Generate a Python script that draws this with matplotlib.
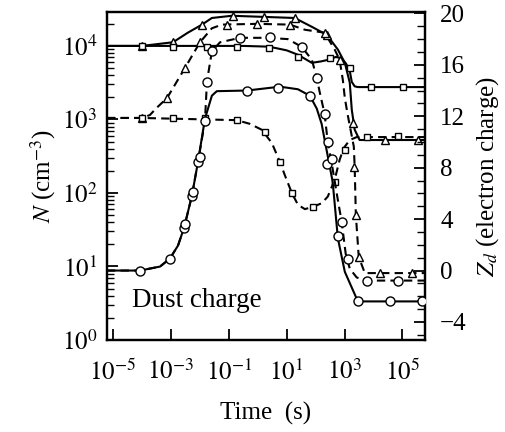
import matplotlib
matplotlib.use('Agg')
import matplotlib.pyplot as plt
import numpy as np

plt.rcParams['font.family'] = ['Liberation Serif', 'DejaVu Serif']
plt.rcParams['mathtext.fontset'] = 'stix'

# time values stored as log10(t / s)

# solid line, circles (dust charge, right axis)
a_lt = [-5.2, -4.06, -3.37, -3.03, -2.75, -2.54, -2.27, -2.06, -1.82, -1.58, -1.41,
        -0.37, 0.77, 1.39, 1.80, 2.04, 2.21, 2.31, 2.59, 2.77, 3.01, 3.46, 5.77]
a_zd = [0.0, 0.0, 0.31, 0.93, 1.94, 3.33, 5.81, 8.45, 11.8, 13.6, 13.95,
        14.0, 14.3, 14.1, 13.6, 12.6, 11.4, 10.2, 6.9, 2.5, -0.1, -2.4, -2.4]
a_mlt = [-4.06, -3.03, -2.54, -2.27, -2.06, -0.37, 0.70, 1.80, 2.39, 2.77, 3.46, 4.56, 5.66]
a_mzd = [0.0, 0.93, 3.33, 5.81, 8.45, 14.0, 14.2, 13.6, 8.3, 2.7, -2.4, -2.4, -2.4]

# dashed line, circles (dust charge, right axis)
b_lt = [-5.2, -4.06, -3.37, -3.03, -2.75, -2.54, -2.27, -2.06, -1.82, -1.75, -1.58,
        -1.30, -0.61, 0.35, 1.04, 1.52, 1.87, 2.04, 2.14, 2.31, 2.42, 2.56, 2.73,
        2.90, 3.04, 3.18, 3.42, 3.77, 5.77]
b_zd = [0.0, 0.0, 0.31, 0.93, 1.94, 3.33, 5.81, 8.45, 11.6, 14.7, 17.05,
        17.75, 18.1, 18.1, 18.0, 17.4, 16.4, 15.0, 13.9, 12.2, 10.0, 8.3, 6.0,
        3.8, 1.3, 0.15, -0.54, -0.78, -0.78]
b_mlt = [-2.50, -2.24, -2.00, -1.82, -1.75, -1.58, -0.61, 0.42, 1.52, 2.04, 2.31,
         2.42, 2.56, 2.90, 3.11, 3.77, 4.83]
b_mzd = [3.6, 6.1, 8.8, 11.6, 14.7, 17.05, 18.1, 18.2, 17.4, 15.0, 12.2,
         10.0, 8.7, 3.8, 0.9, -0.78, -0.78]

# solid line, triangles (log10 N)
c_lt = [-5.2, -3.99, -2.92, -2.41, -1.92, -1.58, -0.89, 1.28, 1.87, 2.39, 2.77,
        3.01, 3.18, 3.25, 3.35, 3.52, 5.77]
c_ln = [4.0, 4.0, 4.05, 4.18, 4.29, 4.38, 4.41, 4.38, 4.26, 4.15, 3.95,
        3.77, 3.50, 3.13, 2.86, 2.72, 2.72]
c_mlt = [-3.99, -2.92, -1.92, -0.86, 0.21, 1.28, 2.39, 3.30, 4.39, 5.52]
c_mln = [4.0, 4.05, 4.29, 4.41, 4.39, 4.38, 4.15, 2.95, 2.72, 2.72]

# solid line, squares (log10 N)
e_lt = [-5.2, -3.99, -0.5, 0.39, 1.0, 1.39, 1.87, 2.2, 2.42, 2.7, 2.9,
        3.05, 3.18, 3.25, 3.35, 3.46, 5.77]
e_ln = [4.0, 4.0, 4.0, 3.99, 3.94, 3.88, 3.77, 3.79, 3.81, 3.85, 3.83,
        3.76, 3.66, 3.51, 3.45, 3.44, 3.44]
e_mlt = [-3.99, -2.92, -1.75, -0.72, 0.39, 1.39, 2.49, 3.18, 3.90, 5.01]
e_mln = [4.0, 3.99, 3.99, 3.99, 3.97, 3.85, 3.84, 3.70, 3.44, 3.44]

# dashed line, triangles (log10 N)
d_lt = [-5.2, -3.99, -3.72, -3.48, -3.13, -2.51, -1.99, -1.58, -1.23, -0.03, 1.11,
        1.63, 2.31, 2.66, 2.83, 2.94, 3.01, 3.11, 3.32, 3.35, 3.39, 3.49, 3.70, 5.77]
d_ln = [3.02, 3.02, 3.06, 3.16, 3.29, 3.70, 4.05, 4.24, 4.29, 4.30, 4.29,
        4.22, 4.18, 3.95, 3.81, 3.54, 3.29, 3.06, 2.63, 2.35, 1.70, 1.13, 0.91, 0.91]
d_mlt = [-3.99, -3.13, -2.51, -1.99, -1.06, -0.03, 1.11, 2.31, 2.83, 3.33, 3.39,
         3.49, 4.21, 5.32]
d_mln = [3.02, 3.29, 3.70, 4.05, 4.29, 4.30, 4.29, 4.18, 3.81, 2.35, 1.70,
         1.13, 0.91, 0.91]

# dashed line, squares (log10 N)
f_lt = [-5.2, -3.99, -0.72, -0.27, 0.14, 0.49, 0.77, 0.94, 1.18, 1.39, 1.63,
        1.90, 2.21, 2.42, 2.66, 2.83, 2.97, 3.18, 3.42, 5.77]
f_ln = [3.02, 3.02, 2.99, 2.94, 2.86, 2.68, 2.42, 2.24, 2.0, 1.84, 1.78,
        1.81, 1.86, 1.95, 2.18, 2.45, 2.61, 2.72, 2.76, 2.76]
f_mlt = [-3.99, -2.92, -1.82, -0.72, 0.25, 0.77, 1.18, 1.90, 2.66, 3.01, 3.77, 4.83]
f_mln = [3.02, 3.02, 3.02, 2.99, 2.83, 2.42, 2.0, 1.81, 2.15, 2.59, 2.76, 2.78]

xtick_exp = [-5, -3, -1, 1, 3, 5]
ytick_exp = [0, 1, 2, 3, 4]
zd_ticks = [-4, 0, 4, 8, 12, 16, 20]


def tt(v):
    return np.power(10.0, v)


fig = plt.figure(figsize=(5.06, 4.32), dpi=100)
ax = fig.add_axes([0.2115, 0.213, 0.628, 0.759])
ax2 = ax.twinx()

lw = 1.5
dash = (4, 2.5)
mk = dict(ls='none', mfc='white', mec='black', mew=1.0, zorder=5)

ax.plot(tt(c_lt), tt(c_ln), 'k-', lw=lw)
ax.plot(tt(c_mlt), tt(c_mln), marker='^', ms=6, **mk)
ax.plot(tt(e_lt), tt(e_ln), 'k-', lw=lw)
ax.plot(tt(e_mlt), tt(e_mln), marker='s', ms=5, **mk)
ax.plot(tt(d_lt), tt(d_ln), 'k--', lw=lw, dashes=dash)
ax.plot(tt(d_mlt), tt(d_mln), marker='^', ms=6, **mk)
ax.plot(tt(f_lt), tt(f_ln), 'k--', lw=lw, dashes=dash)
ax.plot(tt(f_mlt), tt(f_mln), marker='s', ms=5, **mk)

ax2.plot(tt(a_lt), a_zd, 'k-', lw=lw)
ax2.plot(tt(a_mlt), a_mzd, marker='o', ms=6.5, **mk)
ax2.plot(tt(b_lt), b_zd, 'k--', lw=lw, dashes=dash)
ax2.plot(tt(b_mlt), b_mzd, marker='o', ms=6.5, **mk)

ax.set_xscale('log')
ax.set_yscale('log')
ax.set_xlim(tt(-5.2), tt(5.77))
ax.set_ylim(1, tt(4.46))
ax2.set_ylim(-5.4, 20.1)

ax.set_xticks([tt(e) for e in xtick_exp])
ax.set_xticklabels([r'$10^{%d}$' % e for e in xtick_exp])
ax.xaxis.set_minor_locator(matplotlib.ticker.NullLocator())
ax.set_yticks([tt(e) for e in ytick_exp])
ax.set_yticklabels([r'$10^{%d}$' % e for e in ytick_exp])
ax.yaxis.set_minor_locator(matplotlib.ticker.LogLocator(base=10, subs=np.arange(2, 10)))
ax.yaxis.set_minor_formatter(matplotlib.ticker.NullFormatter())

ax2.set_yticks(zd_ticks)
ax2.set_yticklabels([('\u2212%d' % -v) if v < 0 else '%d' % v for v in zd_ticks])
ax2.yaxis.set_minor_locator(matplotlib.ticker.MultipleLocator(1))

ax.tick_params(axis='x', which='major', direction='in', length=8, width=1.3,
               labelsize=18, pad=14, top=False)
ax.tick_params(axis='y', which='major', direction='in', length=8, width=1.3,
               labelsize=18, pad=7, right=False)
ax.tick_params(axis='y', which='minor', direction='in', length=5, width=1.0, right=False)
ax2.tick_params(axis='y', which='major', direction='in', length=8, width=1.3,
                labelsize=18, pad=11)
ax2.tick_params(axis='y', which='minor', direction='in', length=6, width=1.0)

for s in ax.spines.values():
    s.set_linewidth(1.6)
for s in ax2.spines.values():
    s.set_linewidth(1.6)

ax.set_xlabel('Time  (s)', fontsize=18)
ax.set_ylabel(r'$N$ (cm$^{-3}$)', fontsize=18)
ax2.set_ylabel(r'$Z_d$ (electron charge)', fontsize=18)
ax.xaxis.set_label_coords(0.5, -0.19)
ax.yaxis.set_label_coords(-0.155, 0.5)
ax2.yaxis.set_label_coords(1.155, 0.5)

ax.text(0.079, 0.10, 'Dust charge', transform=ax.transAxes, fontsize=19.5,
        va='baseline', ha='left')

fig.savefig('out.png', dpi=100)
